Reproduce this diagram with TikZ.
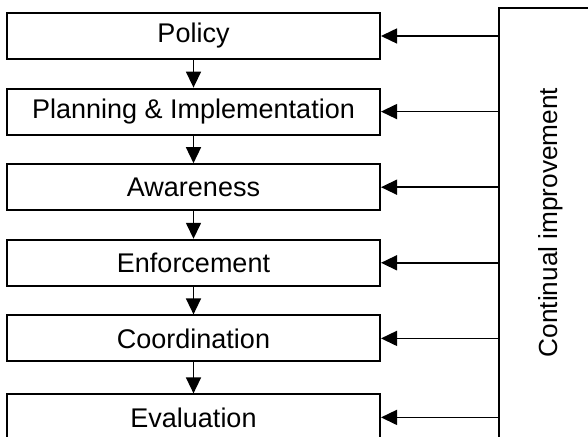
\documentclass[tikz,border=0pt]{standalone}
\usepackage{fontspec}
\setmainfont{Liberation Sans}
\usetikzlibrary{arrows.meta}

\begin{document}
\begin{tikzpicture}[x=0.5pt, y=-0.5pt,
    box/.style={draw, line width=1pt, rectangle, minimum width=186.5pt, minimum height=23pt, inner sep=0pt},
    arr/.style={line width=0.75pt, -{Triangle[length=8pt, width=7.5pt]}},
    font=\fontsize{13.5}{16}\selectfont]
        \useasboundingbox (0,0) rectangle (588,437);

        % Nodes
        \node (policy) [box] at (193.5,36) {Policy};
        \node (planning) [box, below of=policy, node distance=37.8pt] {Planning \& Implementation};
        \node (awareness) [box, below of=planning, node distance=37.8pt] {Awareness};
        \node (enforcement) [box, below of=awareness, node distance=37.8pt] {Enforcement};
        \node (coordination) [box, below of=enforcement, node distance=37.8pt] {Coordination};
        \node (evaluation) [box, below of=coordination, node distance=39.5pt] {Evaluation};

        \node (frame) [draw, line width=1pt, outer sep=0pt, minimum width=75pt, minimum height=240pt, anchor=north west] at (499,8) {};
        \node (cilabel) [rotate=90, font=\fontsize{13.1}{16}\selectfont] at (551,222.5) {Continual improvement};

        % Arrows
        \draw [arr] (policy) -- (planning);
        \draw [arr] (planning) -- (awareness);
        \draw [arr] (awareness) -- (enforcement);
        \draw [arr] (enforcement) -- (coordination);
        \draw [arr] (coordination) -- (evaluation);

        \draw [arr] (frame.west |- policy) -- (policy.east);
        \draw [arr] (frame.west |- planning) -- (planning.east);
        \draw [arr] (frame.west |- awareness) -- (awareness.east);
        \draw [arr] (frame.west |- enforcement) -- (enforcement.east);
        \draw [arr] (frame.west |- coordination) -- (coordination.east);
        \draw [arr] (frame.west |- evaluation) -- (evaluation.east);
\end{tikzpicture}
\end{document}
